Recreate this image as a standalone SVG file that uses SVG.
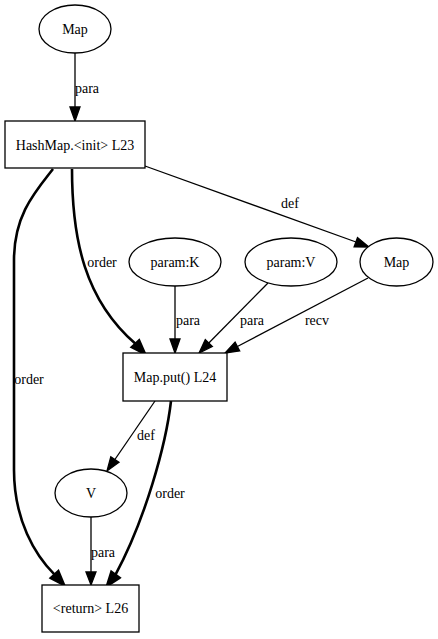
<svg xmlns="http://www.w3.org/2000/svg" width="438" height="639" viewBox="0 0 438 639">
<style>
text{font-family:"Liberation Serif","Times New Roman",serif;font-size:14px;fill:#000;text-anchor:middle}
.n{fill:#fff;stroke:#000;stroke-width:1.3}
.e{fill:none;stroke:#000;stroke-width:1.3}
.b{fill:none;stroke:#000;stroke-width:2.6}
.ah{fill:#000;stroke:#000;stroke-width:1.3}
.bh{fill:#000;stroke:#000;stroke-width:2.6}
</style>
<rect width="438" height="639" fill="#fff"/>
<g id="edges">
<path class="e" d="M75,53 L75,107"/>
<polygon class="ah" points="70,107 75,121 80,107"/>
<text x="87" y="93">para</text>
<path class="e" d="M145,166 L356,242"/>
<polygon class="ah" points="354.1,246.9 369,247 357.5,237.5"/>
<text x="290" y="208">def</text>
<path class="b" d="M72,169 C72,240 85,300 135.5,343.8"/>
<polygon class="bh" points="131.8,347.2 145,354 139.1,340.4"/>
<text x="102" y="267">order</text>
<path class="b" d="M53,169 C35,192 14,215 14,260 L14,470 C14,520 35,555 54.6,574.6"/>
<polygon class="bh" points="50.9,578 64,585 58.3,571.3"/>
<text x="29" y="384">order</text>
<path class="e" d="M175,286 L175,339"/>
<polygon class="ah" points="170,339 175,353 180,339"/>
<text x="188" y="325">para</text>
<path class="e" d="M268,283 L208.8,343"/>
<polygon class="ah" points="212.4,346.5 199,353 205.3,339.5"/>
<text x="252" y="325">para</text>
<path class="e" d="M368,278 L237.4,346.5"/>
<polygon class="ah" points="239.7,350.9 225,353 235.1,342.1"/>
<text x="317" y="325">recv</text>
<path class="e" d="M155,401 L114.9,459.5"/>
<polygon class="ah" points="119,462.3 107,471 110.8,456.7"/>
<text x="146" y="440">def</text>
<path class="b" d="M171,401 C166,445 145,520 115.4,574.8"/>
<polygon class="bh" points="119.4,577.8 107,586 111.4,571.8"/>
<text x="170" y="498">order</text>
<path class="e" d="M91,517 L91,572"/>
<polygon class="ah" points="86,572 91,585 96,572"/>
<text x="103" y="557">para</text>
</g>
<g id="node_map_top">
<ellipse class="n" cx="75" cy="29" rx="36" ry="24"/>
<text x="75" y="34">Map</text>
</g>
<g id="node_hashmap_init">
<rect class="n" x="5" y="121" width="140" height="47"/>
<text x="75" y="150">HashMap.&lt;init&gt; L23</text>
</g>
<g id="node_param_k">
<ellipse class="n" cx="175" cy="262" rx="46" ry="24"/>
<text x="175" y="267">param:K</text>
</g>
<g id="node_param_v">
<ellipse class="n" cx="291" cy="262" rx="46" ry="24"/>
<text x="291" y="267">param:V</text>
</g>
<g id="node_map_right">
<ellipse class="n" cx="396.5" cy="262" rx="36.5" ry="24"/>
<text x="396.5" y="267">Map</text>
</g>
<g id="node_map_put">
<rect class="n" x="123" y="353" width="104" height="48"/>
<text x="175" y="382">Map.put() L24</text>
</g>
<g id="node_v">
<ellipse class="n" cx="91" cy="493" rx="36" ry="24"/>
<text x="91" y="498">V</text>
</g>
<g id="node_return">
<rect class="n" x="42" y="585" width="97" height="47"/>
<text x="90.5" y="613">&lt;return&gt; L26</text>
</g>
</svg>
